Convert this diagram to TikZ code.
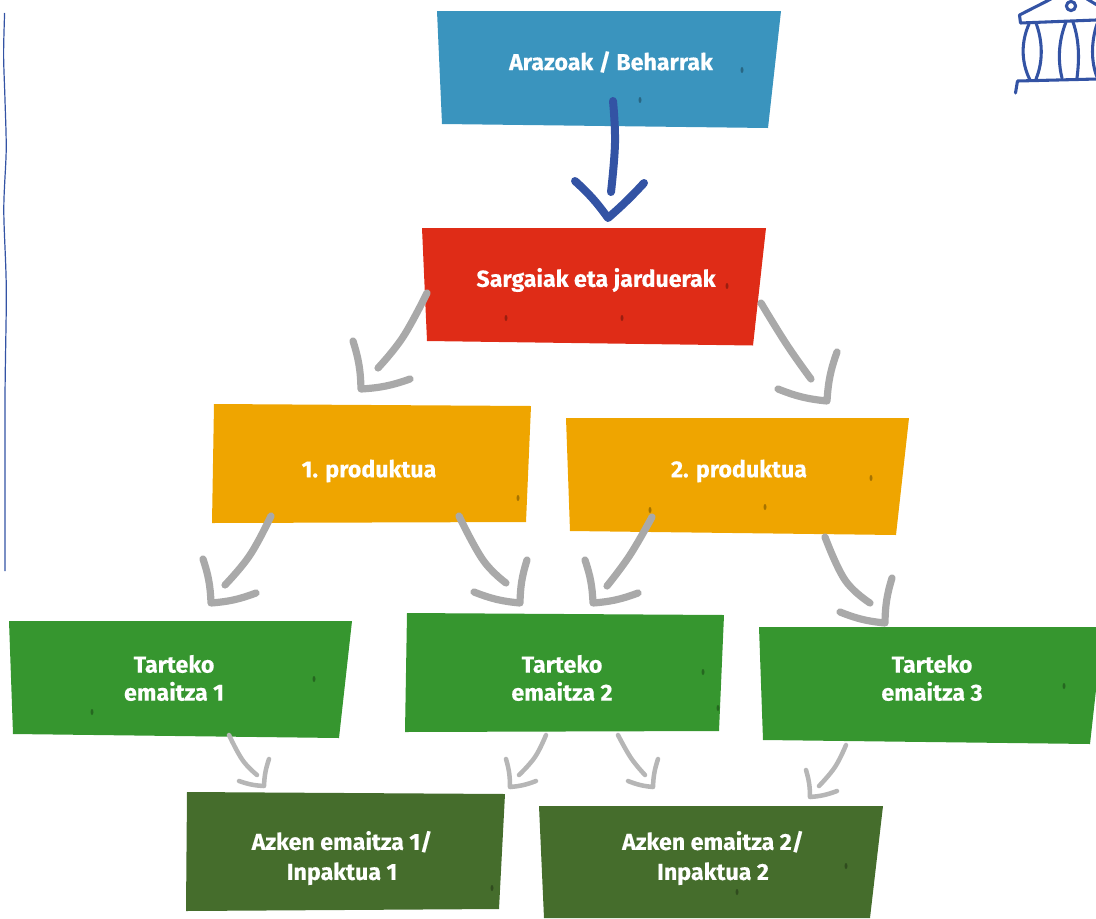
\documentclass[tikz,border=0pt]{standalone}
\usepackage{fontspec}
\setmainfont{Fira Sans}[BoldFeatures={FakeBold=0.35}]
\definecolor{cblue}{HTML}{3A94BE}
\definecolor{cred}{HTML}{DF2C17}
\definecolor{cyellow}{HTML}{EFA500}
\definecolor{cgreen}{HTML}{36962F}
\definecolor{cdark}{HTML}{456D2C}
\definecolor{cink}{HTML}{3353A4}
\definecolor{cgrey}{HTML}{A9A9A9}
\definecolor{clight}{HTML}{B6B6B6}
\tikzset{
  blocktext/.style={text=white,font=\bfseries\fontsize{17.4}{21}\selectfont,align=center,inner sep=0pt},
  speck/.style={fill=black,opacity=.3},
  inkarrow/.style={draw=cink,line width=6pt,line cap=round,line join=round},
  greyarrow/.style={draw=cgrey,line width=5.4pt,line cap=round,line join=round},
  lightarrow/.style={draw=clight,line width=3.4pt,line cap=round,line join=round},
  iconline/.style={draw=cink,line width=2.3pt,line cap=round,line join=round},
  leftbendA/.style={bend left=8},
  leftbendB/.style={bend right=8},
  rightbendA/.style={bend right=8},
  rightbendB/.style={bend left=8},
  inkbendA/.style={bend left=6},
  inkbendB/.style={bend right=3},
}
% style, name, start, mid, end, head1, tip, head2, side
\newcommand{\handarrow}[9]{%
  \coordinate (#2s) at #3; \coordinate (#2m) at #4; \coordinate (#2e) at #5;
  \coordinate (#2a) at #6; \coordinate (#2t) at #7; \coordinate (#2b) at #8;
  \path[#1] plot[smooth,tension=.7] coordinates {(#2s) (#2m) (#2e)};
  \path[#1] (#2a) to[#9bendA] (#2t) to[#9bendB] (#2b);
}
\begin{document}
\begin{tikzpicture}[x=0.75pt,y=-0.75pt]
\useasboundingbox (0,0) rectangle (1096,918);
% paper blocks
\fill[cblue] (437,11)--(781,11)--(768,128)--(442,124)--cycle;
\fill[cred] (422,228)--(766,228)--(753,345.5)--(427,341)--cycle;
\fill[cyellow] (214,404)--(531,406)--(526,522)--(212,523)--cycle;
\fill[cyellow] (566,418)--(909,418)--(896,535)--(570,531)--cycle;
\fill[cgreen] (9,621)--(352,621)--(339,738)--(13,734)--cycle;
\fill[cgreen] (407,613)--(724,615)--(719,731)--(405,732)--cycle;
\fill[cgreen] (759,627)--(1096,627)--(1096,690)--(1090,744)--(763,740)--cycle;
\fill[cdark] (187,792)--(505,794)--(499,909)--(186,911)--cycle;
\fill[cdark] (539,806)--(883,806)--(870,918)--(544,918)--cycle;
% specks
\foreach \p in {(742,70),(640,100),(727,286),(506,318),(622,318),(518,498),(871,478),(650,510),(765,507),(314,679),(92,712),(703,672),(718,708),(1064,686),(492,888),(846,866),(737,892)}
  \fill[speck] \p ellipse [x radius=1.5,y radius=3];
% labels
\node[blocktext] (problems) at (611,62) {Arazoak / Beharrak};
\node[blocktext] (inputs) at (596,280) {Sargaiak eta jarduerak};
\node[blocktext] (prodA) at (369,471) {1. produktua};
\node[blocktext] (prodB) at (739,471) {2. produktua};
\node[blocktext] (midA) at (174,678) {Tarteko\\emaitza 1};
\node[blocktext] (midB) at (562,678) {Tarteko\\emaitza 2};
\node[blocktext] (midC) at (932,678) {Tarteko\\emaitza 3};
\node[blocktext] (endA) at (342,858) {Azken emaitza 1/\\[1.5pt]Inpaktua 1};
\node[blocktext] (endB) at (713,858) {Azken emaitza 2/\\[1.5pt]Inpaktua 2};
% side rule
\draw[cink,line width=0.9pt] plot[smooth] coordinates {(4.6,13) (3.6,55) (5,100) (6.2,150) (3.8,210) (6.3,290) (5,400) (5,571)};
% arrows
\handarrow{inkarrow}{aa}{(613,101)}{(615,143)}{(611,192)}{(575,181)}{(608,218)}{(644,183)}{ink}
\handarrow{greyarrow}{ab}{(427,293)}{(403,337)}{(378,368)}{(353,341)}{(361,389)}{(410,379)}{left}
\handarrow{greyarrow}{ae}{(271,516)}{(250,555)}{(225,585)}{(203,559)}{(211,603)}{(256,593)}{left}
\handarrow{greyarrow}{ag}{(652,517)}{(630,555)}{(607,586)}{(585,560)}{(593,603)}{(638,593)}{left}
\handarrow{lightarrow}{ak}{(546,735)}{(535,757)}{(519,775)}{(506,759)}{(510,787)}{(536,781)}{left}
\handarrow{lightarrow}{am}{(846,745)}{(835,767)}{(819,786)}{(806,770)}{(810,797)}{(837,791)}{left}
\handarrow{greyarrow}{ac}{(761,303)}{(787,345)}{(811,379)}{(837,352)}{(827,401)}{(778,389)}{right}
\handarrow{greyarrow}{af}{(459,516)}{(483,560)}{(506,583)}{(527,560)}{(520,603)}{(474,592)}{right}
\handarrow{greyarrow}{ah}{(825,537)}{(845,580)}{(870,603)}{(892,578)}{(885,623)}{(840,612)}{right}
\handarrow{lightarrow}{aj}{(229,735)}{(242.5,760)}{(257,775)}{(269,759)}{(264,786)}{(239,781)}{right}
\handarrow{lightarrow}{al}{(618,735)}{(631,758)}{(645,775)}{(658,759)}{(653,787)}{(628,781)}{right}
% building icon
\begin{scope}
\clip (0,0) rectangle (1096,918);
\draw[iconline] (1051,-1)--(1019.5,15)--(1020.5,23)--(1096,20);
\draw[iconline] (1087,-1)--(1097,5);
\draw[iconline] (1071,6) circle [radius=4.6];
\draw[iconline] (1029,24) .. controls (1021,42) and (1021,62) .. (1030,80);
\draw[iconline] (1036,23) .. controls (1043,42) and (1043,62) .. (1036,79);
\draw[iconline] (1066,22) .. controls (1058,42) and (1058,62) .. (1062,78);
\draw[iconline] (1073,22) .. controls (1080,42) and (1079,62) .. (1077,78);
\draw[iconline] (1097,24) .. controls (1091,42) and (1091,62) .. (1097,77);
\draw[iconline] (1015.5,93)--(1017.5,81)--(1097,79);
\end{scope}
\end{tikzpicture}
\end{document}
